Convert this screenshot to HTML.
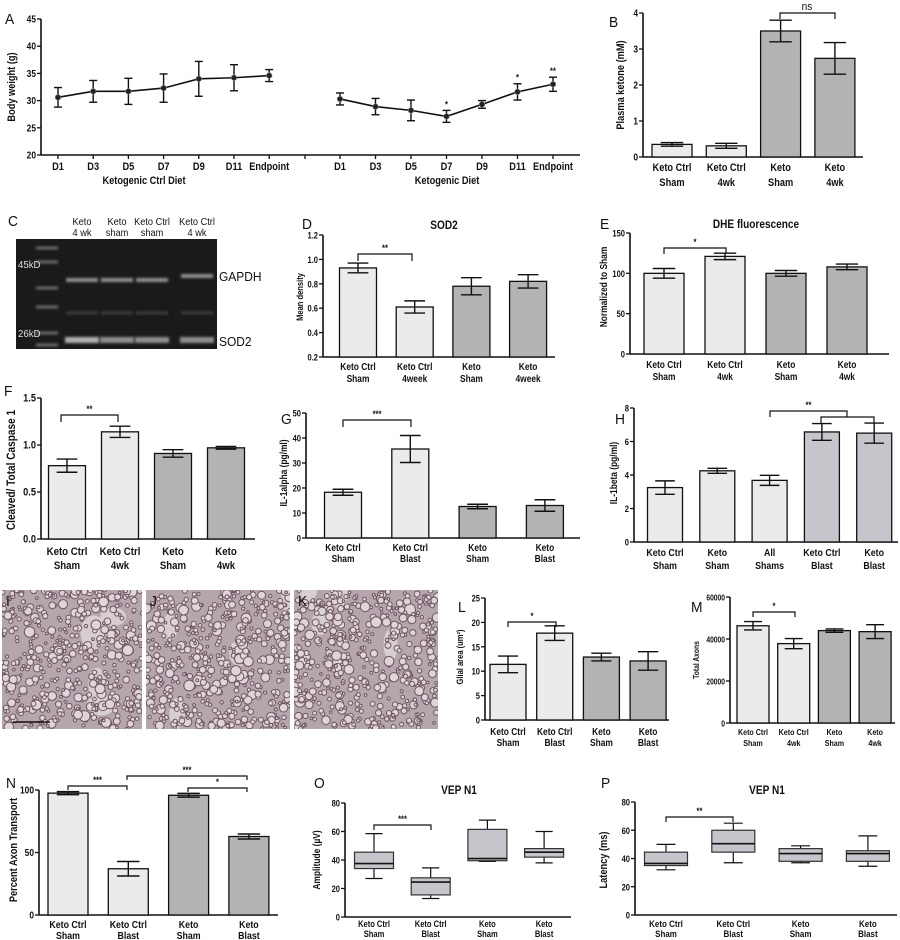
<!DOCTYPE html>
<html><head><meta charset="utf-8">
<style>
html,body{margin:0;padding:0;background:#fff;}
svg{display:block;font-family:"Liberation Sans",Arial,sans-serif;}
</style></head>
<body>
<svg id="fig" width="900" height="940" viewBox="0 0 900 940" xmlns="http://www.w3.org/2000/svg">
<defs>
<filter id="blur1" x="-20%" y="-80%" width="140%" height="260%"><feGaussianBlur stdDeviation="1.4"/></filter>
<clipPath id="clipI"><rect x="2" y="590" width="140" height="139"/></clipPath>
<clipPath id="clipJ"><rect x="146" y="590" width="144" height="139"/></clipPath>
<clipPath id="clipK"><rect x="294" y="590" width="144" height="139"/></clipPath>
</defs>
</svg>
<script>
// ---------- DATA ----------
const A_days = ["D1","D3","D5","D7","D9","D11","Endpoint"];
const A_ctrlMean = [30.6,31.7,31.7,32.3,34.0,34.2,34.6];
const A_ctrlErr = [1.8,2.0,2.4,2.6,3.2,2.4,1.1];
const A_ketoMean = [30.3,28.9,28.2,27.1,29.3,31.6,33.0];
const A_ketoErr = [1.1,1.5,1.9,1.1,0.7,1.5,1.3];
const A_ketoStars = ["","","","*","","*","**"];
const A_ticks = [20,25,30,35,40,45];

const B_cats = ["Keto Ctrl|Sham","Keto Ctrl|4wk","Keto|Sham","Keto|4wk"];
const B_vals = [0.35,0.31,3.5,2.74];
const B_errs = [0.05,0.07,0.3,0.44];
const B_ticks = [0,1,2,3,4];

const D_cats = ["Keto Ctrl|Sham","Keto Ctrl|4week","Keto|Sham","Keto|4week"];
const D_vals = [0.93,0.61,0.78,0.82];
const D_errs = [0.04,0.05,0.07,0.055];
const D_ticks = [0.2,0.4,0.6,0.8,1.0,1.2];
const D_tickLabels = ["0.2","0.4","0.6","0.8","1.0","1.2"];

const E_cats = ["Keto Ctrl|Sham","Keto Ctrl|4wk","Keto|Sham","Keto|4wk"];
const E_vals = [100,121,100,108];
const E_errs = [6,4,3.5,3.5];
const E_ticks = [0,50,100,150];

const F_cats = ["Keto Ctrl|Sham","Keto Ctrl|4wk","Keto|Sham","Keto|4wk"];
const F_vals = [0.78,1.14,0.91,0.97];
const F_errs = [0.07,0.06,0.04,0.015];
const F_ticks = [0,0.5,1.0,1.5];
const F_tickLabels = ["0.0","0.5","1.0","1.5"];

const G_cats = ["Keto Ctrl|Sham","Keto Ctrl|Blast","Keto|Sham","Keto|Blast"];
const G_vals = [18.3,35.6,12.6,13.0];
const G_errs = [1.2,5.4,0.9,2.3];
const G_ticks = [0,10,20,30,40,50];

const H_cats = ["Keto Ctrl|Sham","Keto|Sham","All|Shams","Keto Ctrl|Blast","Keto|Blast"];
const H_vals = [3.25,4.25,3.68,6.57,6.5];
const H_errs = [0.4,0.15,0.3,0.5,0.6];
const H_ticks = [0,2,4,6,8];

const L_cats = ["Keto Ctrl|Sham","Keto Ctrl|Blast","Keto|Sham","Keto|Blast"];
const L_vals = [11.4,17.8,12.9,12.1];
const L_errs = [1.7,1.5,0.8,1.9];
const L_ticks = [0,5,10,15,20,25];

const M_cats = ["Keto Ctrl|Sham","Keto Ctrl|4wk","Keto|Sham","Keto|4wk"];
const M_vals = [46300,37800,44000,43500];
const M_errs = [2000,2400,800,3300];
const M_ticks = [0,20000,40000,60000];

const N_cats = ["Keto Ctrl|Sham","Keto Ctrl|Blast","Keto|Sham","Keto|Blast"];
const N_vals = [97.5,37,95.8,62.8];
const N_errs = [1.2,5.8,1.5,2];
const N_ticks = [0,50,100];

const O_cats = ["Keto Ctrl|Sham","Keto Ctrl|Blast","Keto|Sham","Keto|Blast"];
const O_min = [27,13,39,38];
const O_q1 = [34,15.5,39.5,42];
const O_med = [37.5,24.5,41,45.5];
const O_q3 = [45.5,27.5,61.5,48];
const O_max = [58.5,34.5,68,60];
const O_ticks = [0,20,40,60,80];

const P_cats = ["Keto Ctrl|Sham","Keto Ctrl|Blast","Keto|Sham","Keto|Blast"];
const P_min = [32,37,37,34.5];
const P_q1 = [35,44.5,38,38];
const P_med = [36.5,50.5,43.5,43.5];
const P_q3 = [44.5,60,47,45.5];
const P_max = [50,65,49,56];
const P_ticks = [0,20,40,60,80];

// ---------- HELPERS ----------
const SVG = document.getElementById('fig');
const NS = "http://www.w3.org/2000/svg";
const LIGHT = "#ebebeb", DARK = "#b3b3b3", BLUEG = "#c5c5cb";
const SX = 0.84;
function mk(tag, attrs, parent){
  const el = document.createElementNS(NS, tag);
  for (const k in attrs) el.setAttribute(k, attrs[k]);
  (parent || SVG).appendChild(el);
  return el;
}
function txt(x, y, s, size, anchor, weight, parent, name){
  const w = weight || 'bold';
  const sc = (w === 'bold') ? SX : 0.92;
  const t = mk('text', {x:0, y:0, transform:'translate('+x+' '+y+') scale('+sc+' 1)', 'font-size':size, 'text-anchor':anchor||'middle', 'font-weight':w, fill:'#111'}, parent);
  t.textContent = s;
  
  
  return t;
}
function line(x1,y1,x2,y2,w,parent,name){
  const l = mk('line',{x1:x1,y1:y1,x2:x2,y2:y2,stroke:'#111','stroke-width':w||1.3},parent);
  
  
  return l;
}
function letter(x,y,s){
  return txt(x,y,s,15,'start','normal',null,'panel-letter-'+s.toLowerCase());
}
function ylabel(x,y,s,size,g){
  const t = mk('text',{x:0,y:0,'font-size':size||11,'text-anchor':'middle','font-weight':'bold',fill:'#111',transform:'translate('+x+' '+y+') rotate(-90) scale('+SX+' 1)'},g);
  t.textContent = s;
  
  
}
function bracket(x1,x2,y,drop,label,g){
  const p = mk('path',{d:'M'+x1+' '+(y+drop)+' L'+x1+' '+y+' L'+x2+' '+y+' L'+x2+' '+(y+drop),fill:'none',stroke:'#111','stroke-width':1.2},g);
  
  
  if (label) txt((x1+x2)/2, y-3, label, 9, 'middle','bold', g, 'significance-label');
}
function makeScale(min,max,y0,y1){ return v => y0 - (v-min)/(max-min)*(y0-y1); }

function axes(cfg, g){
  const ys = makeScale(cfg.min,cfg.max,cfg.y0,cfg.y1);
  line(cfg.ax, cfg.y1, cfg.ax, cfg.y0, 1.6, g, 'y-axis-line');
  line(cfg.ax, cfg.y0, cfg.xEnd, cfg.y0, 1.6, g, 'x-axis-line');
  cfg.ticks.forEach((v,i)=>{
    const y = ys(v);
    line(cfg.ax-4, y, cfg.ax, y, 1.3, g, 'y-tick');
    const lab = cfg.tickLabels ? cfg.tickLabels[i] : String(v);
    txt(cfg.ax-5, y+3.5, lab, cfg.tfs||10, 'end', 'bold', g, 'y-tick-label');
  });
  return ys;
}
function catLabels(cfg, cats, g){
  cats.forEach((c,i)=>{
    const x = cfg.x0 + i*cfg.step;
    c.split('|').forEach((p,j)=>{
      txt(x, cfg.ly + j*cfg.lh, p, cfg.lfs||11, 'middle','bold', g, 'x-category-label');
    });
  });
}
function barChart(cfg, cats, vals, errs){
  const g = mk('g',{});
  
  
  const ys = axes(cfg, g);
  vals.forEach((v,i)=>{
    const x = cfg.x0 + i*cfg.step;
    const top = ys(v);
    const r = mk('rect',{x:x-cfg.bw/2, y:top, width:cfg.bw, height:cfg.y0-top, fill:cfg.colors[i], stroke:'#111','stroke-width':1.3}, g);
    
    
    const e = errs[i];
    const cw = cfg.bw*0.28;
    line(x, ys(v+e), x, ys(v-e), 1.4, g, 'error-bar');
    line(x-cw, ys(v+e), x+cw, ys(v+e), 1.4, g, 'error-cap');
    line(x-cw, ys(v-e), x+cw, ys(v-e), 1.4, g, 'error-cap');
  });
  catLabels(cfg, cats, g);
  return {g:g, ys:ys};
}
function boxChart(cfg, cats, mn, q1, md, q3, mx){
  const g = mk('g',{});
  
  
  const ys = axes(cfg, g);
  cats.forEach((c,i)=>{
    const x = cfg.x0 + i*cfg.step;
    const hw = cfg.bw/2, cw = cfg.bw*0.22;
    line(x, ys(mx[i]), x, ys(q3[i]), 1.2, g, 'whisker');
    line(x, ys(q1[i]), x, ys(mn[i]), 1.2, g, 'whisker');
    line(x-cw, ys(mx[i]), x+cw, ys(mx[i]), 1.2, g, 'whisker-cap');
    line(x-cw, ys(mn[i]), x+cw, ys(mn[i]), 1.2, g, 'whisker-cap');
    const r = mk('rect',{x:x-hw, y:ys(q3[i]), width:cfg.bw, height:ys(q1[i])-ys(q3[i]), fill:BLUEG, stroke:'#333','stroke-width':1.2}, g);
    
    
    line(x-hw, ys(md[i]), x+hw, ys(md[i]), 1.6, g, 'median-line');
  });
  catLabels(cfg, cats, g);
  return {g:g, ys:ys};
}

// ---------- PANEL A ----------
(function(){
  const g = mk('g',{});
  
  
  letter(5,24,'A');
  const cfg = {ax:41, y0:155, y1:19, min:20, max:45, xEnd:580, ticks:A_ticks};
  const ys = axes(cfg, g);
  ylabel(15, 87, 'Body weight (g)', 11, g);
  const xl = i => 58 + i*35.2;
  const xr = i => 340 + i*35.5;
  line(305,155,305,159,1.3,g,'x-tick');
  function series(xf, mean, err, stars, nm){
    let d = '';
    mean.forEach((v,i)=>{ d += (i?'L':'M') + xf(i) + ' ' + ys(v) + ' '; });
    const p = mk('path',{d:d, fill:'none', stroke:'#111','stroke-width':1.6}, g);
    
    
    mean.forEach((v,i)=>{
      const x = xf(i);
      line(x, ys(v+err[i]), x, ys(v-err[i]), 1.4, g, 'error-bar');
      line(x-4, ys(v+err[i]), x+4, ys(v+err[i]), 1.4, g, 'error-cap');
      line(x-4, ys(v-err[i]), x+4, ys(v-err[i]), 1.4, g, 'error-cap');
      const c = mk('circle',{cx:x, cy:ys(v), r:2.8, fill:'#222', stroke:'#888','stroke-width':0.6}, g);
      
      
      line(x,155,x,159,1.3,g,'x-tick');
      txt(x, 170, A_days[i], 11, 'middle','bold', g, 'x-tick-label');
      if (stars && stars[i]) txt(x, ys(v+err[i])-3, stars[i], 9, 'middle','bold', g, 'significance-label');
    });
  }
  series(xl, A_ctrlMean, A_ctrlErr, null, 'ctrl-diet');
  series(xr, A_ketoMean, A_ketoErr, A_ketoStars, 'keto-diet');
  txt(144, 184, 'Ketogenic  Ctrl  Diet', 11, 'middle','bold', g, 'x-group-title');
  txt(447, 184, 'Ketogenic  Diet', 11, 'middle','bold', g, 'x-group-title');
})();

// ---------- PANEL B ----------
letter(609,27,'B');
(function(){
  const r = barChart({name:'panel-b-plasma-ketone', ax:643, y0:157, y1:13, min:0, max:4, xEnd:863, ticks:B_ticks,
    x0:672, step:54.3, bw:40, colors:[LIGHT,LIGHT,DARK,DARK], ly:171, lh:15}, B_cats, B_vals, B_errs);
  ylabel(624, 85, 'Plasma ketone (mM)', 11, r.g);
  bracket(780, 835, 13, 6, '', r.g);
  txt(807, 10, 'ns', 11, 'middle','normal', r.g, 'significance-label');
})();

// ---------- PANEL C (blot) ----------
(function(){
  const g = mk('g',{});
  
  
  letter(8,226,'C');
  const lanes = [["Keto","4 wk"],["Keto","sham"],["Keto Ctrl","sham"],["Keto Ctrl","4 wk"]];
  const lx = [82,117,152,197];
  lanes.forEach((l,i)=>{
    txt(lx[i], 225, l[0], 10, 'middle','normal', g, 'lane-label');
    txt(lx[i], 236, l[1], 10, 'middle','normal', g, 'lane-label');
  });
  const b = mk('rect',{x:16,y:239,width:201,height:110,fill:'#1a1a1a'},g);
  
  
  [248,262,288,307,333,345].forEach(y=>{
    const r = mk('rect',{x:36,y:y-1.5,width:22,height:3,fill:'#6a6a6a',filter:'url(#blur1)'},g);
    
    
  });
  lx.forEach((x,i)=>{
    const gy = i===3 ? 276 : 280;
    const r1 = mk('rect',{x:x-16,y:gy-2,width:32,height:4,fill:'#8e8e8e',filter:'url(#blur1)'},g);
    
    
    const r2 = mk('rect',{x:x-16,y:313-1.5,width:32,height:3,fill:'#3e3e3e',filter:'url(#blur1)'},g);
    
    
    const r3 = mk('rect',{x:x-17,y:340-3,width:34,height:6,fill:i===0?'#b0b0b0':'#8e8e8e',filter:'url(#blur1)'},g);
    
    
  });
  const t1 = txt(18, 268, '45kD', 10.5, 'start','normal', g, 'marker-45kd'); t1.setAttribute('fill','#ddd');
  const t2 = txt(18, 337, '26kD', 10.5, 'start','normal', g, 'marker-26kd'); t2.setAttribute('fill','#ddd');
  txt(219, 281, 'GAPDH', 13, 'start','normal', g, 'gapdh-label');
  txt(219, 346, 'SOD2', 13, 'start','normal', g, 'sod2-label');
})();

// ---------- PANEL D ----------
letter(302,229,'D');
(function(){
  const r = barChart({name:'panel-d-sod2', ax:323, y0:357, y1:235, min:0.2, max:1.2, xEnd:555, ticks:D_ticks, tickLabels:D_tickLabels, tfs:9,
    x0:358, step:56.7, bw:37, colors:[LIGHT,LIGHT,DARK,DARK], ly:370, lh:12, lfs:10}, D_cats, D_vals, D_errs);
  txt(444, 229, 'SOD2', 12, 'middle','bold', r.g, 'chart-title');
  ylabel(303, 297, 'Mean density', 9, r.g);
  bracket(358, 412, 254, 7, '**', r.g);
})();

// ---------- PANEL E ----------
letter(600,229,'E');
(function(){
  const r = barChart({name:'panel-e-dhe', ax:630, y0:354, y1:233, min:0, max:150, xEnd:889, ticks:E_ticks, tfs:9,
    x0:664, step:61, bw:40, colors:[LIGHT,LIGHT,DARK,DARK], ly:368, lh:12, lfs:10}, E_cats, E_vals, E_errs);
  txt(756, 228, 'DHE fluorescence', 12, 'middle','bold', r.g, 'chart-title');
  ylabel(607, 287, 'Normalized to Sham', 10, r.g);
  bracket(664, 726, 248, 6, '*', r.g);
})();

// ---------- PANEL F ----------
letter(4,396,'F');
(function(){
  const r = barChart({name:'panel-f-caspase', ax:41, y0:539, y1:398, min:0, max:1.5, xEnd:255, ticks:F_ticks, tickLabels:F_tickLabels, tfs:11,
    x0:67, step:53, bw:37, colors:[LIGHT,LIGHT,DARK,DARK], ly:555, lh:14, lfs:11.5}, F_cats, F_vals, F_errs);
  ylabel(15, 470, 'Cleaved/ Total Caspase  1', 12, r.g);
  bracket(61, 118, 415, 7, '**', r.g);
})();

// ---------- PANEL G ----------
letter(281,424,'G');
(function(){
  const r = barChart({name:'panel-g-il1alpha', ax:306, y0:538, y1:413, min:0, max:50, xEnd:580, ticks:G_ticks, tfs:9,
    x0:343, step:67.3, bw:37, colors:[LIGHT,LIGHT,DARK,DARK], ly:551, lh:11, lfs:10}, G_cats, G_vals, G_errs);
  ylabel(287, 473, 'IL-1alpha (pg/ml)', 10, r.g);
  bracket(343, 411, 420, 7, '***', r.g);
})();

// ---------- PANEL H ----------
letter(615,424,'H');
(function(){
  const r = barChart({name:'panel-h-il1beta', ax:634, y0:542, y1:408, min:0, max:8, xEnd:898, ticks:H_ticks, tfs:9,
    x0:665, step:52.3, bw:35, colors:[LIGHT,LIGHT,LIGHT,BLUEG,BLUEG], ly:556, lh:13, lfs:10.5}, H_cats, H_vals, H_errs);
  ylabel(617, 473, 'IL-1beta (pg/ml)', 10, r.g);
  bracket(770, 847, 411, 6, '**', r.g);
  bracket(821, 874, 417, 6, '', r.g);
})();

// ---------- PANELS I J K (micrographs) ----------
(function(){
  let seed = 12345;
  function rnd(){ seed = (seed*1103515245 + 12345) % 2147483648; return seed/2147483648; }
  const panels = [['I',2,590,140,'clipI'],['J',146,590,144,'clipJ'],['K',294,590,144,'clipK']];
  panels.forEach(p=>{
    const g = mk('g',{'clip-path':'url(#'+p[4]+')'});
    
    
    const bg = mk('rect',{x:p[1],y:p[2],width:p[3],height:139,fill:'#b5a5ac'},g);
    
    
    for (let k=0;k<4;k++){
      const pl = mk('ellipse',{cx:p[1]+rnd()*p[3], cy:p[2]+rnd()*139, rx:7+rnd()*10, ry:7+rnd()*10, fill:'#d6ced1'},g);
      
      
    }
    for (let k=0;k<480;k++){
      const rr = 1.3 + rnd()*rnd()*4.5;
      const c = mk('circle',{cx:p[1]+rnd()*p[3], cy:p[2]+rnd()*139, r:rr, fill:'#ddd5d8', stroke:'#6f5562','stroke-width':1.0},g);
      
      
    }
    txt(p[1]+4, p[2]+16, p[0], 15, 'start','normal', null, 'panel-letter-'+p[0].toLowerCase());
  });
  line(13,722,50,722,1.5,null,'scale-bar');
})();

// ---------- PANEL L ----------
letter(458,612,'L');
(function(){
  const r = barChart({name:'panel-l-glial-area', ax:485, y0:720, y1:598, min:0, max:25, xEnd:669, ticks:L_ticks, tfs:9,
    x0:508, step:46.7, bw:36, colors:[LIGHT,LIGHT,DARK,DARK], ly:735, lh:11, lfs:10}, L_cats, L_vals, L_errs);
  ylabel(463, 657, 'Glial area (um²)', 9, r.g);
  bracket(508, 556, 622, 5, '*', r.g);
})();

// ---------- PANEL M ----------
letter(691,612,'M');
(function(){
  const r = barChart({name:'panel-m-total-axons', ax:730, y0:723, y1:597, min:0, max:60000, xEnd:895, ticks:M_ticks, tfs:8,
    x0:753, step:40.7, bw:32, colors:[LIGHT,LIGHT,DARK,DARK], ly:735, lh:11, lfs:8.5}, M_cats, M_vals, M_errs);
  ylabel(699, 660, 'Total Axons', 8, r.g);
  bracket(753, 795, 612, 5, '*', r.g);
})();

// ---------- PANEL N ----------
letter(6,788,'N');
(function(){
  const r = barChart({name:'panel-n-axon-transport', ax:39, y0:915, y1:790, min:0, max:100, xEnd:278, ticks:N_ticks, tfs:10,
    x0:68, step:60.3, bw:40, colors:[LIGHT,LIGHT,DARK,DARK], ly:928, lh:11, lfs:10.5}, N_cats, N_vals, N_errs);
  ylabel(17, 850, 'Percent Axon Transport', 11, r.g);
  bracket(68, 127, 786, 4, '***', r.g);
  bracket(127, 247, 776, 4, '***', r.g);
  bracket(188, 247, 788, 4, '*', r.g);
})();

// ---------- PANEL O ----------
letter(314,788,'O');
(function(){
  const r = boxChart({name:'panel-o-vep-amplitude', ax:345, y0:917, y1:803, min:0, max:80, xEnd:571, ticks:O_ticks, tfs:9,
    x0:374, step:56.7, bw:39, ly:927, lh:10, lfs:9}, O_cats, O_min, O_q1, O_med, O_q3, O_max);
  txt(459, 794, 'VEP N1', 12, 'middle','bold', r.g, 'chart-title');
  ylabel(320, 860, 'Amplitude (µV)', 10, r.g);
  bracket(374, 431, 825, 5, '***', r.g);
})();

// ---------- PANEL P ----------
letter(601,788,'P');
(function(){
  const r = boxChart({name:'panel-p-vep-latency', ax:635, y0:915, y1:802, min:0, max:80, xEnd:897, ticks:P_ticks, tfs:9,
    x0:666, step:67.3, bw:43, ly:927, lh:10, lfs:9.5}, P_cats, P_min, P_q1, P_med, P_q3, P_max);
  txt(767, 794, 'VEP N1', 12, 'middle','bold', r.g, 'chart-title');
  ylabel(607, 860, 'Latency (ms)', 11, r.g);
  bracket(666, 733, 817, 5, '**', r.g);
})();
</script>
</body></html>
